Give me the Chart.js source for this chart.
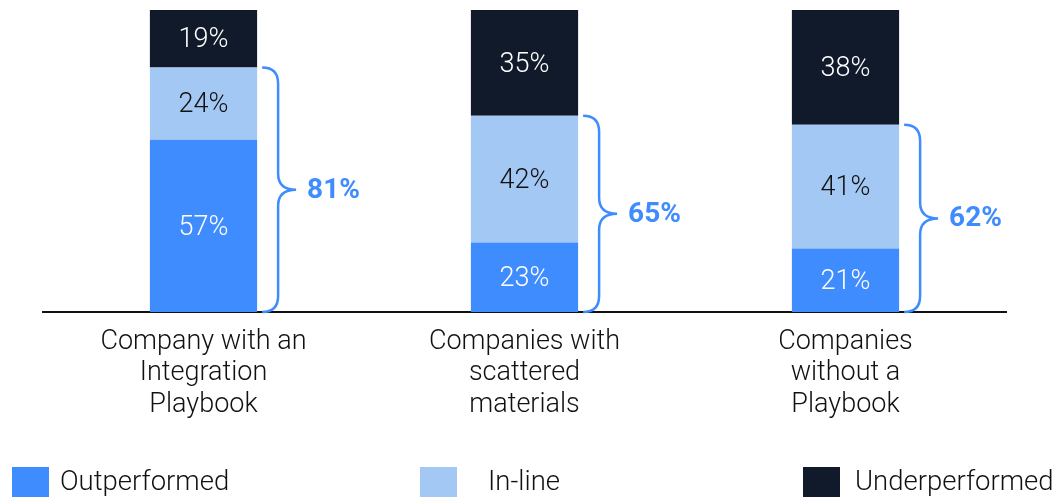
<!DOCTYPE html>
<html>
<head>
<meta charset="utf-8">
<script src="https://cdn.jsdelivr.net/npm/chart.js@4.4.1/dist/chart.umd.min.js"></script>
<style>
html,body{margin:0;padding:0;background:#fff;}
#wrap{width:1056px;height:497px;position:relative;}
</style>
</head>
<body>
<div id="wrap"><canvas id="c" width="1056" height="497"></canvas></div>
<script>
const categories = [
  ["Company with an", "Integration", "Playbook"],
  ["Companies with", "scattered", "materials"],
  ["Companies", "without a", "Playbook"]
];
const seriesNames = ["Outperformed", "In-line", "Underperformed"];
const outperformed = [57, 23, 21];
const inLine = [24, 42, 41];
const underperformed = [19, 35, 38];
const bracketTotals = [81, 65, 62];

const colors = ["#3f8cff", "#a3c8f3", "#111a2b"];
const labelColors = ["#ffffff", "#111111", "#ffffff"];
const braceColor = "#3f8cff";
const FONT = "Roboto, 'Liberation Sans', sans-serif";

const valueLabels = {
  id: 'valueLabels',
  afterDatasetsDraw(chart) {
    const ctx = chart.ctx;
    ctx.save();
    ctx.textAlign = 'center';
    ctx.textBaseline = 'middle';
    ctx.font = "300 27px " + FONT;
    chart.data.datasets.forEach((ds, di) => {
      const meta = chart.getDatasetMeta(di);
      meta.data.forEach((el, i) => {
        ctx.fillStyle = labelColors[di];
        ctx.fillText(ds.data[i] + '%', el.x, (el.y + el.base) / 2 + 2);
      });
    });
    ctx.restore();
  }
};

const braces = {
  id: 'braces',
  afterDatasetsDraw(chart) {
    const ctx = chart.ctx;
    const m0 = chart.getDatasetMeta(0);
    const m1 = chart.getDatasetMeta(1);
    ctx.save();
    m1.data.forEach((el, i) => {
      const right = el.x + el.width / 2;
      const x0 = right + 5, xm = x0 + 16, tip = x0 + 34;
      const y1 = el.y, y2 = m0.data[i].base;
      const ym = (y1 + y2) / 2;
      const r = 16;
      ctx.beginPath();
      ctx.moveTo(x0, y1);
      ctx.quadraticCurveTo(xm, y1, xm, y1 + r);
      ctx.lineTo(xm, ym - r);
      ctx.quadraticCurveTo(xm, ym, tip, ym);
      ctx.moveTo(tip, ym);
      ctx.quadraticCurveTo(xm, ym, xm, ym + r);
      ctx.lineTo(xm, y2 - r);
      ctx.quadraticCurveTo(xm, y2, x0, y2);
      ctx.strokeStyle = braceColor;
      ctx.lineWidth = 2.5;
      ctx.stroke();
      ctx.fillStyle = braceColor;
      ctx.font = "bold 28px " + FONT;
      ctx.textAlign = 'left';
      ctx.textBaseline = 'middle';
      ctx.fillText(bracketTotals[i] + '%', x0 + 45, ym + 1);
    });
    ctx.restore();
  }
};

const legendPos = [{box: 12, text: 60}, {box: 420, text: 488}, {box: 803, text: 855}];
const customLegend = {
  id: 'customLegend',
  afterDraw(chart) {
    const ctx = chart.ctx;
    ctx.save();
    ctx.textAlign = 'left';
    ctx.textBaseline = 'middle';
    ctx.font = "300 27.5px " + FONT;
    chart.data.datasets.forEach((ds, di) => {
      const p = legendPos[di];
      ctx.fillStyle = ds.backgroundColor;
      ctx.fillRect(p.box, 467, 37, 32);
      ctx.fillStyle = '#111111';
      ctx.fillText(ds.label, p.text, 483);
    });
    ctx.restore();
  }
};

new Chart(document.getElementById('c'), {
  type: 'bar',
  data: {
    labels: categories,
    datasets: [
      {label: seriesNames[0], data: outperformed, backgroundColor: colors[0]},
      {label: seriesNames[1], data: inLine, backgroundColor: colors[1]},
      {label: seriesNames[2], data: underperformed, backgroundColor: colors[2]}
    ]
  },
  options: {
    responsive: false,
    animation: false,
    layout: {padding: {left: 43, right: 50, top: 10, bottom: 0}},
    datasets: {bar: {categoryPercentage: 1, barPercentage: 0.334, borderWidth: 0}},
    plugins: {legend: {display: false}, tooltip: {enabled: false}},
    scales: {
      x: {
        stacked: true,
        grid: {display: false},
        border: {display: true, color: '#111111', width: 2},
        ticks: {color: '#111111', font: {family: FONT, size: 27, weight: 300, lineHeight: 1.17}, padding: 6, maxRotation: 0},
        afterFit(s) { s.height = 185; }
      },
      y: {stacked: true, min: 0, max: 100, display: false}
    }
  },
  plugins: [valueLabels, braces, customLegend]
});
</script>
</body>
</html>
